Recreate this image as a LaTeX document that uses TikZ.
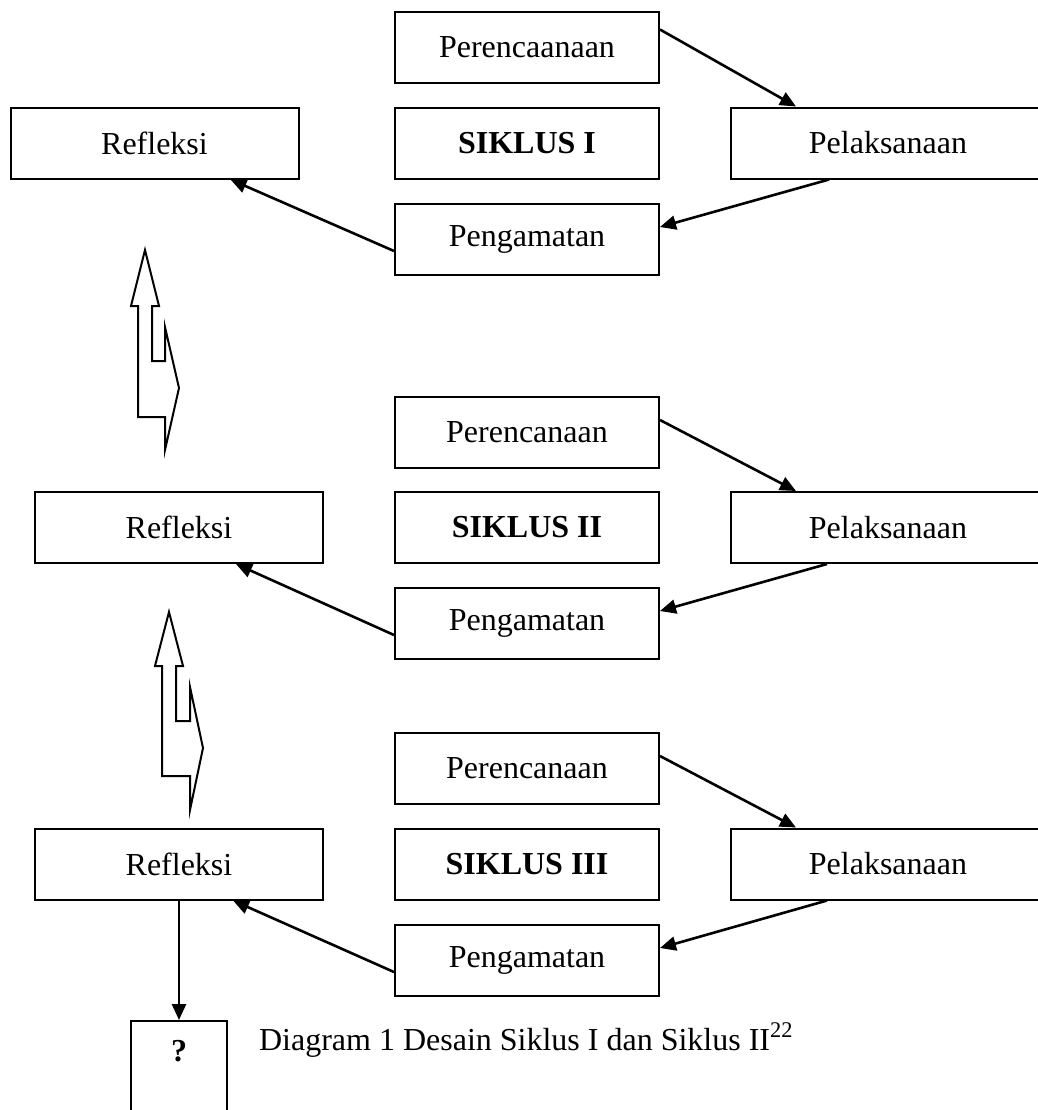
\documentclass[tikz,border=0pt]{standalone}
\usepackage{fontspec}
\setmainfont{Liberation Serif}
\usepackage{tikz}
\usetikzlibrary{arrows.meta,positioning}

\begin{document}
\begin{tikzpicture}[x=0.5pt,y=-0.5pt,font=\fontsize{16pt}{19pt}\selectfont,
  box/.style={rectangle,draw=black,line width=1pt,inner sep=0pt,minimum height=35.5pt},
  mid/.style={box,minimum width=132pt},
  side/.style={box,minimum width=144pt},
  arr/.style={-{Triangle[length=8pt,width=7pt]},line width=1.3pt}]
\useasboundingbox (0,0) rectangle (1038,1110);
% \draw[help lines] (0,0) grid (1038,1110);
% siklus I
\node (per1) [mid] at (527,47.5) {Perencaanaan};
\node (sik1) [mid] at (527,143) {\textbf{SIKLUS I}};
\node (pel1) [box,minimum width=157pt] at (888,143) {Pelaksanaan};
\node (pen1) [mid] at (527,239) {Pengamatan};
\node (ref1) [side] at (154.5,143) {Refleksi};
%
\path[arr] ([yshift=9pt]per1.east) edge ([xshift=33pt]pel1.north west);
\path[arr] ([xshift=49.5pt]pel1.south west) edge ([yshift=6pt]pen1.east);
\path[arr] ([yshift=-6pt]pen1.west) edge ([xshift=38pt]ref1.south);
% siklus II
\node (per2) [mid] at (527,432) {Perencanaan};
\node (sik2) [mid] at (527,527.5) {\textbf{SIKLUS II}};
\node (pel2) [box,minimum width=157pt] at (888,527.5) {Pelaksanaan};
\node (pen2) [mid] at (527,623) {Pengamatan};
\node (ref2) [side] at (179,527.5) {Refleksi};
%
\path[arr] ([yshift=6pt]per2.east) edge ([xshift=33pt]pel2.north west);
\path[arr] ([xshift=48.5pt]pel2.south west) edge ([yshift=6pt]pen2.east);
\path[arr] ([yshift=-6pt]pen2.west) edge ([xshift=28.5pt]ref2.south);
% siklus III
\node (per3) [mid] at (527,768) {Perencanaan};
\node (sik3) [mid] at (527,864) {\textbf{SIKLUS III}};
\node (pel3) [box,minimum width=157pt] at (888,864) {Pelaksanaan};
\node (pen3) [mid] at (527,960) {Pengamatan};
\node (ref3) [side] at (179,864) {Refleksi};
%
\path[arr] ([yshift=6pt]per3.east) edge ([xshift=33pt]pel3.north west);
\path[arr] ([xshift=48.5pt]pel3.south west) edge ([yshift=6pt]pen3.east);
\path[arr] ([yshift=-6pt]pen3.west) edge ([xshift=27pt]ref3.south);
% kotak tanya
\node (q) [box,minimum width=48pt,minimum height=0pt,text height=20pt,text depth=40pt,anchor=north] at (179,1020) {\textbf{?}};
\path[arr] (ref3.south) edge (q.north);
\node (cap) [anchor=base west] at (252,1050) {Diagram 1 Desain Siklus I dan Siklus II\textsuperscript{22}};
% panah blok
\draw[line width=1pt,shift={(145,250)}] (0,0) -- (14,56) -- (7,56) -- (7,111) -- (20,111) -- (20,77)
  -- (34,138) -- (20,200) -- (20,167) -- (-7,167) -- (-7,56) -- (-14,56) -- cycle;
\draw[line width=1pt,shift={(169,612)}] (0,0) -- (14,54) -- (7,54) -- (7,109) -- (21,109) -- (21,75)
  -- (34,136) -- (21,198) -- (21,164) -- (-7,164) -- (-7,54) -- (-14,54) -- cycle;
\end{tikzpicture}
\end{document}
